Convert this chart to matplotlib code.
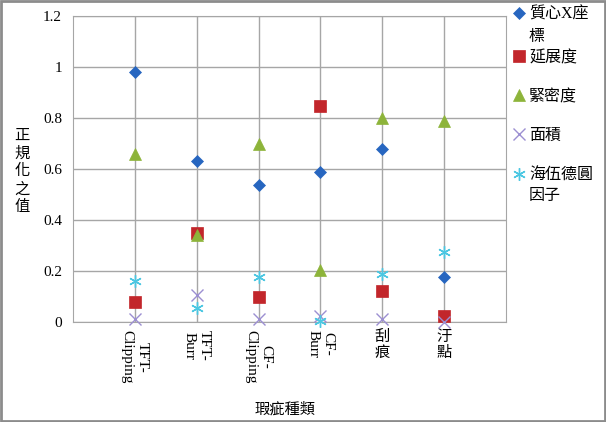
import matplotlib
matplotlib.use("Agg")
import matplotlib.pyplot as plt
from matplotlib.patches import Rectangle
from matplotlib.lines import Line2D

plt.rcParams['font.family'] = ['Liberation Serif', 'Noto Sans CJK TC']

categories = ["TFT-\nClipping", "TFT-\nBurr", "CF-\nClipping", "CF-\nBurr", "刮\n痕", "汙\n點"]
centroid_x = [0.98, 0.63, 0.537, 0.59, 0.68, 0.175]
elongation = [0.078, 0.35, 0.10, 0.847, 0.12, 0.025]
compactness = [0.66, 0.34, 0.70, 0.205, 0.80, 0.79]
area = [0.01, 0.105, 0.01, 0.025, 0.01, 0.0]
heywood = [0.16, 0.055, 0.175, 0.005, 0.19, 0.275]

series = [
    ("質心X座\n標", centroid_x, "D", "#2766c0", 6),
    ("延展度", elongation, "s", "#c2262b", 8),
    ("緊密度", compactness, "^", "#8db43a", 8),
    ("面積", area, "x", "#9c8fd2", 8),
    ("海伍德圓\n因子", heywood, (6, 2, 0), "#4cc7e2", 9),
]
# legend rows: pixel y of the first text line, and gap to a wrapped line
legend_rows = [13, 56, 95, 134, 174]
legend_gaps = [22, 0, 0, 0, 20]

W, H = 606, 422
fig = plt.figure(figsize=(W / 100, H / 100), dpi=100)
ax = fig.add_axes([73 / W, 1 - 322 / H, (506 - 73) / W, (322 - 16) / H])

xs = list(range(1, len(categories) + 1))
for (name, vals, mk, col, ms), ly, gap in zip(series, legend_rows, legend_gaps):
    mew = 1.0 if mk == "x" or isinstance(mk, tuple) else 0.5
    ax.plot(xs, vals, linestyle="none", marker=mk, color=col, markersize=ms,
            markeredgewidth=mew, clip_on=False, zorder=3)
    fig.add_artist(Line2D([519 / W], [1 - ly / H], marker=mk, color=col, markersize=ms,
                          markeredgewidth=mew, linestyle="none"))
    for k, line in enumerate(name.split("\n")):
        fig.text(529 / W, 1 - (ly + k * gap) / H, line, fontsize=11.5, ha="left",
                 va="center_baseline")

ax.set_xlim(0, 7)
ax.set_ylim(0, 1.2)
ax.set_yticks([0, 0.2, 0.4, 0.6, 0.8, 1.0, 1.2])
ax.set_yticklabels(["0", "0.2", "0.4", "0.6", "0.8", "1", "1.2"], fontsize=11)
ax.set_xticks(xs)
ax.set_xticklabels(categories, fontsize=11)
for lbl in ax.get_xticklabels():
    if "-" in lbl.get_text():
        lbl.set_rotation(-90)
        lbl.set_va("top")
        lbl.set_ha("center")
    else:
        lbl.set_linespacing(1.15)
ax.grid(True, which="major", axis="both", color="#a6a6a6", linewidth=1)
ax.tick_params(axis="y", length=0, pad=8)
ax.tick_params(axis="x", length=0, pad=6)
ax.set_axisbelow(True)
for sp in ax.spines.values():
    sp.set_color("#a6a6a6")

fig.text(22 / W, 1 - 172 / H, "正\n規\n化\n之\n值", fontsize=11, ha="center", va="center",
         linespacing=1.3)
fig.text(285 / W, 1 - 409 / H, "瑕疵種類", fontsize=11, ha="center", va="center")

fig.patches.append(Rectangle((0.002, 0.003), 0.996, 0.994, transform=fig.transFigure,
                             fill=False, edgecolor="#8c8c8c", linewidth=2))

fig.savefig("out.png", dpi=100)
